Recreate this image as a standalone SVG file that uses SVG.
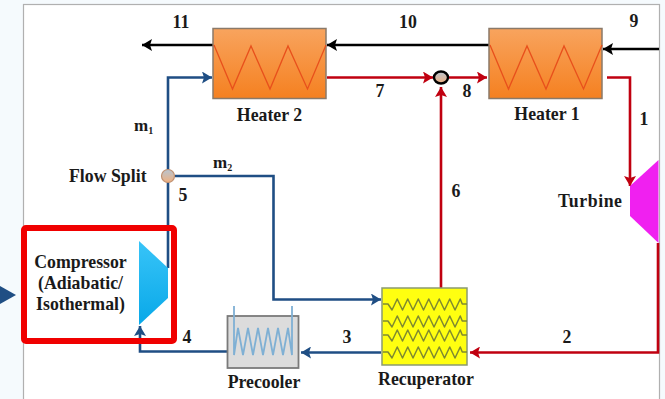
<svg xmlns="http://www.w3.org/2000/svg" width="665" height="399" viewBox="0 0 665 399">
<defs>
<linearGradient id="hg" x1="0" y1="0" x2="0" y2="1"><stop offset="0" stop-color="#f8a45e"/><stop offset="1" stop-color="#f58020"/></linearGradient>
<linearGradient id="cg" x1="0" y1="0" x2="0" y2="1"><stop offset="0" stop-color="#38c4f8"/><stop offset="1" stop-color="#08a8e8"/></linearGradient>
<linearGradient id="sg" x1="0" y1="0" x2="0" y2="1"><stop offset="0" stop-color="#b8c4d0"/><stop offset="1" stop-color="#f0b080"/></linearGradient>
<marker id="ab" markerUnits="userSpaceOnUse" markerWidth="11" markerHeight="12" refX="10" refY="6" orient="auto"><path d="M0,0L10,6L0,12L2,6Z" fill="#1f4e84"/></marker>
<marker id="ar" markerUnits="userSpaceOnUse" markerWidth="11" markerHeight="12" refX="10" refY="6" orient="auto"><path d="M0,0L10,6L0,12L2,6Z" fill="#c00010"/></marker>
<marker id="ak" markerUnits="userSpaceOnUse" markerWidth="11" markerHeight="12" refX="10" refY="6" orient="auto"><path d="M0,0L10,6L0,12L2,6Z" fill="#000"/></marker>
<path id="wave" d="M383,0h5l4,6l5.250,-11l5.250,11l5.250,-11l5.250,11l5.250,-11l5.250,11l5.250,-11l5.250,11l5.250,-11l5.250,11l5.250,-11l5.250,11l5.250,-11l2,5h4.750" fill="none" stroke="#7f8a30" stroke-width="1.500" stroke-linejoin="round"/>
</defs>
<style>
text{font-family:"Liberation Serif","Times New Roman",serif;font-weight:bold;font-size:17.800px;fill:#1a1a1a}
.b{fill:none;stroke:#1f4e84;stroke-width:2.600}
.r{fill:none;stroke:#c00010;stroke-width:2.600}
.k{fill:none;stroke:#000;stroke-width:2.400}
.hx{fill:url(#hg);stroke:#8a7a6a;stroke-width:1.500}
.zz{fill:none;stroke:#e8501c;stroke-width:1.300}
.m{text-anchor:middle}
.mm{font-size:17px}
</style>
<rect width="665" height="399" fill="#f5fafd"/>
<rect x="23.500" y="4.500" width="636" height="400" fill="#fff" stroke="#b0b0b0" stroke-width="1.200"/>
<path d="M0,286V304L16,295Z" fill="#1f4e84"/>

<g id="connectors">
<path class="k" d="M213,45H142" marker-end="url(#ak)"/>
<path class="k" d="M489,45H327" marker-end="url(#ak)"/>
<path class="k" d="M659,49H603" marker-end="url(#ak)"/>
<path class="b" d="M168,170V77.500H212" marker-end="url(#ab)"/>
<path class="b" d="M168,182V268"/>
<path class="b" d="M175,176H273.500V299.500H381" marker-end="url(#ab)"/>
<path class="r" d="M327,77.500H433" marker-end="url(#ar)"/>
<path class="r" d="M449,77.500H487" marker-end="url(#ar)"/>
<path class="r" d="M441,288V87" marker-end="url(#ar)"/>
<path class="r" d="M607,77.500H630V186" marker-end="url(#ar)"/>
<path class="r" d="M658,243V352.500H470" marker-end="url(#ar)"/>
<path class="b" d="M381,352.500H301" marker-end="url(#ab)"/>
<path class="b" d="M227,351.500H140V326" marker-end="url(#ab)"/>
</g>

<g id="heater2">
<rect class="hx" x="213" y="28.500" width="113" height="70"/>
<path class="zz" d="M214,45L232.500,89L251,46L270,89L288,46L307.500,89L326,45"/>
<text class="m" x="269.500" y="120.500">Heater 2</text>
</g>
<g id="heater1">
<rect class="hx" x="489" y="28.500" width="113" height="70"/>
<path class="zz" d="M490,45L508.500,89L527,46L546,89L564,46L583.500,89L602,45"/>
<text class="m" x="547" y="120">Heater 1</text>
</g>
<g id="mixer">
<ellipse cx="441" cy="77.500" rx="7" ry="6" fill="url(#sg)" stroke="#000" stroke-width="2.400"/>
</g>
<g id="flow-split">
<circle cx="168" cy="176" r="6.500" fill="url(#sg)" stroke="#c09070" stroke-width="1.200"/>
<text x="69" y="181.500">Flow Split</text>
<text class="m" x="183" y="201">5</text>
</g>
<g id="turbine">
<path d="M630,186L658.500,160V243L630,216Z" fill="#f020f0"/>
<text x="558" y="207" textLength="64">Turbine</text>
</g>
<g id="compressor">
<path d="M139,241L168,268V298L139,325Z" fill="url(#cg)"/>
<text class="m" x="80.500" y="268">Compressor</text>
<text class="m" x="80.500" y="288.500">(Adiabatic/</text>
<text class="m" x="80.500" y="310">Isothermal)</text>
</g>
<g id="precooler">
<rect x="227.500" y="316" width="71" height="52" fill="#dcdcdc" stroke="#7a7a7a" stroke-width="1.800"/>
<path d="M234,306V355L238,328L243,355L248,328L253,355L258,328L263,355L268,328L273,355L278,328L283,355L288,328L292,355V306" fill="none" stroke="#7fb0d4" stroke-width="1.800"/>
<text class="m" x="264" y="388">Precooler</text>
</g>
<g id="recuperator">
<rect x="382" y="288" width="85" height="77" fill="#ffff10" stroke="#8a9a70" stroke-width="1.500"/>
<use href="#wave" y="304"/>
<use href="#wave" y="321"/>
<use href="#wave" y="335"/>
<use href="#wave" y="352"/>
<text class="m" x="426" y="385">Recuperator</text>
</g>
<g id="labels">
<text class="m" x="181" y="27.500">11</text>
<text class="m" x="408" y="27.500">10</text>
<text class="m" x="634" y="26.500">9</text>
<text class="m" x="380" y="97">7</text>
<text class="m" x="467" y="97">8</text>
<text class="m" x="644" y="125">1</text>
<text class="m" x="456" y="197">6</text>
<text class="m" x="567" y="343">2</text>
<text class="m" x="347" y="343">3</text>
<text class="m" x="187" y="343">4</text>
<text class="mm" x="134" y="131">m<tspan font-size="10" dy="3">1</tspan></text>
<text class="mm" x="213" y="168">m<tspan font-size="10" dy="3">2</tspan></text>
</g>
<rect x="24" y="228" width="150" height="113" fill="none" stroke="#f00000" stroke-width="6" rx="2"/>
</svg>
